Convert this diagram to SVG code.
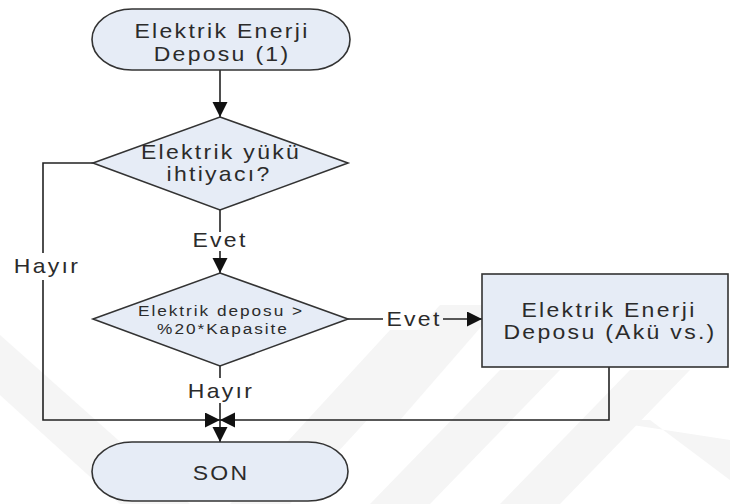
<svg xmlns="http://www.w3.org/2000/svg" width="730" height="504" viewBox="0 0 730 504">
  <defs>
    <marker id="arrow" markerUnits="userSpaceOnUse" markerWidth="16" markerHeight="16" refX="15" refY="7.5" orient="auto">
      <path d="M0,0 L15,7.5 L0,15 z" fill="#111"/>
    </marker>
    <style>
      .shape { fill: #E6ECF6; stroke: #333; stroke-width: 1.6; }
      .wire { fill: none; stroke: #222; stroke-width: 1.6; }
      .lbl { font-family: "Liberation Sans", Arial, sans-serif; font-size: 20px; letter-spacing: 2px; fill: #2b2b2b; text-anchor: middle; }
      .sm { font-size: 15px; letter-spacing: 1.7px; }
      .mark { fill: #f5f5f5; }
    </style>
  </defs>

  <rect width="730" height="504" fill="#ffffff"/>

  <!-- faint background watermark bands -->
  <g id="watermark">
    <polygon class="mark" points="0,335 0,395 120,504 190,504"/>
    <polygon class="mark" points="230,504 290,504 450,330 390,330"/>
    <polygon class="mark" points="340,420 400,420 500,305 440,305"/>
    <polygon class="mark" points="370,504 430,504 560,370 500,370"/>
    <polygon class="mark" points="500,504 560,504 690,370 630,370"/>
    <polygon class="mark" points="600,420 650,420 730,480 730,440"/>
  </g>

  <!-- connectors -->
  <g id="connectors">
    <path class="wire" d="M220,70 V117" marker-end="url(#arrow)"/>
    <path class="wire" d="M93,163 H43 V253"/>
    <path class="wire" d="M43,280 V420 H220" marker-end="url(#arrow)"/>
    <path class="wire" d="M220,210 V232"/>
    <path class="wire" d="M220,251 V273" marker-end="url(#arrow)"/>
    <path class="wire" d="M348,319 H383"/>
    <path class="wire" d="M443,319 H482" marker-end="url(#arrow)"/>
    <path class="wire" d="M220,366 V378"/>
    <path class="wire" d="M220,403 V442" marker-end="url(#arrow)"/>
    <path class="wire" d="M609,367 V420 H220" marker-end="url(#arrow)"/>
    <text class="lbl" transform="translate(47,273) scale(1.15,1)">Hayır</text>
    <text class="lbl" transform="translate(220,247) scale(1.15,1)">Evet</text>
    <text class="lbl" transform="translate(414,326) scale(1.15,1)">Evet</text>
    <text class="lbl" transform="translate(221,398) scale(1.15,1)">Hayır</text>
  </g>

  <!-- start terminator -->
  <g id="start">
    <rect class="shape" x="92" y="9" width="258" height="61" rx="40" ry="30.5"/>
    <text class="lbl" transform="translate(222,38) scale(1.15,1)">Elektrik Enerji</text>
    <text class="lbl" transform="translate(222,61) scale(1.15,1)">Deposu (1)</text>
  </g>

  <!-- load demand decision -->
  <g id="decision-load">
    <polygon class="shape" points="220,117 348,163 220,210 93,163"/>
    <text class="lbl" transform="translate(221,159) scale(1.15,1)">Elektrik yükü</text>
    <text class="lbl" transform="translate(219,181) scale(1.15,1)">ihtiyacı?</text>
  </g>

  <!-- storage level decision -->
  <g id="decision-storage">
    <polygon class="shape" points="220,273 348,319 220,366 93,319"/>
    <text class="lbl sm" transform="translate(221,316) scale(1.15,1)">Elektrik deposu &gt;</text>
    <text class="lbl sm" transform="translate(223,334) scale(1.15,1)">%20*Kapasite</text>
  </g>

  <!-- storage process -->
  <g id="storage">
    <rect class="shape" x="482" y="274" width="246" height="93"/>
    <text class="lbl" transform="translate(609,317) scale(1.15,1)">Elektrik Enerji</text>
    <text class="lbl" transform="translate(610,339) scale(1.15,1)">Deposu (Akü vs.)</text>
  </g>

  <!-- end terminator -->
  <g id="end">
    <rect class="shape" x="92" y="442" width="256" height="59" rx="40" ry="29.5"/>
    <text class="lbl" transform="translate(221,480) scale(1.15,1)">SON</text>
  </g>
</svg>
